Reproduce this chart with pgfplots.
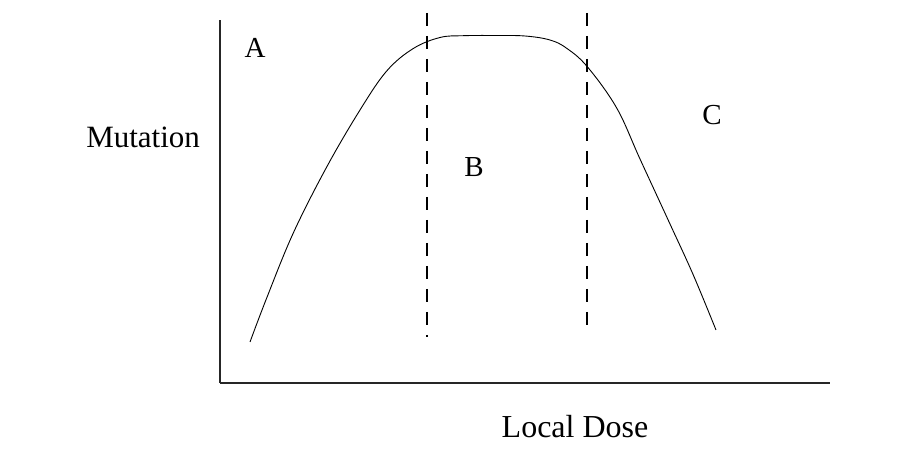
\documentclass[border=0pt]{standalone}
\usepackage{pgfplots}
\pgfplotsset{compat=1.18}
\usepackage{fontspec}
\setmainfont{Liberation Serif}
\begin{document}
\begin{tikzpicture}[x=1pt,y=1pt]
\useasboundingbox (0,0) rectangle (911,455);
\begin{axis}[
  at={(220pt,72pt)}, anchor=south west,
  x=1pt, y=1pt,
  xmin=220, xmax=830, ymin=0, ymax=363,
  axis lines=left,
  axis line style={-, line width=1.4pt, black!85},
  xtick=\empty, ytick=\empty,
  clip=false,
  xlabel={Local Dose},
  ylabel={Mutation},
  xlabel style={at={(axis description cs:0.582,-0.1515)}, anchor=base, font=\fontsize{32}{33}\selectfont},
  ylabel style={at={(axis description cs:-0.126,0.650)}, anchor=base, rotate=-90, font=\fontsize{31}{32}\selectfont},
]
\addplot[black, line width=0.9pt, smooth, tension=0.6] coordinates {
(250,41) (266.7,85) (293.3,150) (326.7,216) (360,273) (386.7,312)
(413.3,334.5) (440,345.5) (463.3,347.3) (495,347.5) (525,347) (550,343) (566.7,334.7)
(587.3,316.3) (616.7,275) (640,224) (670,159) (693.3,108) (716,53)
};
\addplot[black, line width=1.1pt, dash pattern=on 13pt off 10pt] coordinates {(427,370) (427,46)};
\addplot[black, line width=1.1pt, dash pattern=on 13pt off 10pt] coordinates {(587,370) (587,53)};
\node[anchor=base, font=\fontsize{29}{30}\selectfont] at (axis cs:255,325) {A};
\node[anchor=base, font=\fontsize{29}{30}\selectfont] at (axis cs:474,206) {B};
\node[anchor=base, font=\fontsize{29}{30}\selectfont] at (axis cs:712,258) {C};
\end{axis}
\end{tikzpicture}
\end{document}
